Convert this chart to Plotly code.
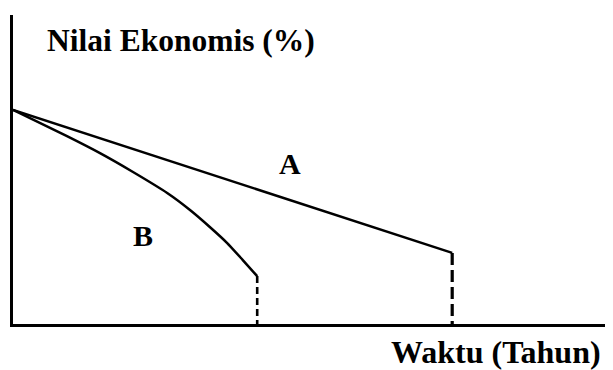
import plotly.graph_objs as go

# curve A: straight decline, curve B: faster, bending decline
a_x = [0, 7.32]
a_y = [69.3, 23.0]
b_x = [0, 0.9, 1.45, 2.0, 2.57, 2.95, 3.28, 3.57, 3.83, 4.07]
b_y = [69.3, 60.8, 55.3, 49.2, 42.4, 36.9, 31.4, 26.2, 20.7, 15.5]
labels = ["A", "B"]
label_x = [4.62, 2.17]
label_y = [52.1, 28.8]

serif = "Liberation Serif, Times New Roman, serif"

fig = go.Figure()
fig.add_trace(go.Scatter(x=a_x, y=a_y, mode="lines",
                         line=dict(color="black", width=2.5)))
fig.add_trace(go.Scatter(x=b_x, y=b_y, mode="lines", line_shape="spline",
                         line=dict(color="black", width=2.5, smoothing=0.6)))
# dashed drops to the time axis
fig.add_trace(go.Scatter(x=[a_x[-1], a_x[-1]], y=[a_y[-1], 0], mode="lines",
                         line=dict(color="black", width=3.2, dash="12px,5px")))
fig.add_trace(go.Scatter(x=[b_x[-1], b_x[-1]], y=[b_y[-1], 0], mode="lines",
                         line=dict(color="black", width=2.6, dash="7px,4px")))

for t, x, y in zip(labels, label_x, label_y):
    fig.add_annotation(x=x, y=y, text="<b>%s</b>" % t, showarrow=False,
                       font=dict(family=serif, size=30, color="black"))

fig.add_annotation(xref="paper", yref="paper", x=0.0533, y=0.919,
                   xanchor="left", yanchor="middle", showarrow=False,
                   text="<b>Nilai Ekonomis (%)</b>",
                   font=dict(family=serif, size=31.5, color="black"))
fig.add_annotation(xref="paper", yref="paper", x=0.983, y=-0.0906,
                   xanchor="right", yanchor="middle", showarrow=False,
                   text="<b>Waktu (Tahun)</b>",
                   font=dict(family=serif, size=32, color="black"))

# the page body adds an 8px offset, so the figure is sized to fit after it
fig.update_xaxes(range=[0, 10], showgrid=False, showticklabels=False,
                 zeroline=False, showline=True, linecolor="black", linewidth=2.5)
fig.update_yaxes(range=[0, 100], showgrid=False, showticklabels=False,
                 zeroline=False, showline=True, linecolor="black", linewidth=2.5)
fig.update_layout(
    width=605, height=362,
    showlegend=False,
    margin=dict(l=5, r=0, t=7, b=46),
    paper_bgcolor="white",
    plot_bgcolor="white",
)
fig.write_html("out.html")
